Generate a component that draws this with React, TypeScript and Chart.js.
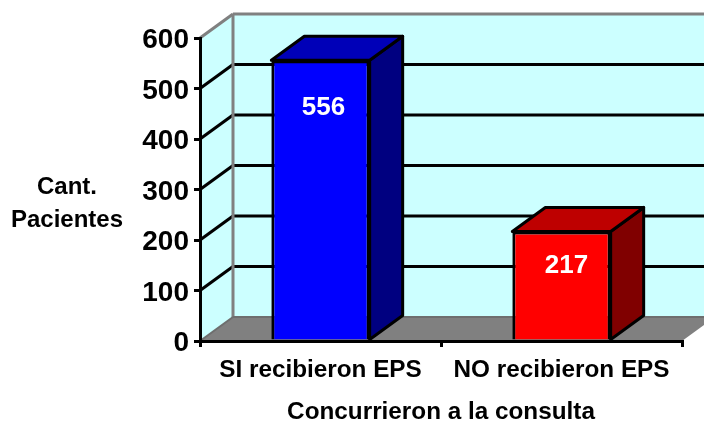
import React, { useEffect, useRef } from "react";
import { Chart, registerables } from "chart.js";

Chart.register(...registerables);

const categories = ["SI recibieron EPS", "NO recibieron EPS"];
const patients = [556, 217];
const frontColors = ["#0000FF", "#FF0000"];
const topColors = ["#0000B8", "#BE0000"];
const sideColors = ["#000080", "#800000"];
const yTicks = [0, 100, 200, 300, 400, 500, 600];
const yTitle = ["Cant.", "Pacientes"];
const xTitle = "Concurrieron a la consulta";

const FONT = "'Liberation Sans', Arial, sans-serif";
const DX = 33;
const DY = 24;
const labelDrop = [46, 32];
const labelShift = [3, 5];

const poly = (ctx: CanvasRenderingContext2D, pts: number[][], fill: string | null, stroke: string | null, lw = 3) => {
  ctx.beginPath();
  pts.forEach((p, i) => (i ? ctx.lineTo(p[0], p[1]) : ctx.moveTo(p[0], p[1])));
  ctx.closePath();
  if (fill) {
    ctx.fillStyle = fill;
    ctx.fill();
  }
  if (stroke) {
    ctx.strokeStyle = stroke;
    ctx.lineWidth = lw;
    ctx.lineJoin = "round";
    ctx.stroke();
  }
};

const line = (ctx: CanvasRenderingContext2D, x1: number, y1: number, x2: number, y2: number, color: string, lw = 3) => {
  ctx.beginPath();
  ctx.moveTo(x1, y1);
  ctx.lineTo(x2, y2);
  ctx.strokeStyle = color;
  ctx.lineWidth = lw;
  ctx.stroke();
};

const box3d = {
  id: "box3d",
  beforeDraw(chart: any) {
    const { ctx, chartArea: a, scales } = chart;
    const { left: l, right: r, top: t, bottom: b } = a;
    ctx.save();
    ctx.fillStyle = "#FFFFFF";
    ctx.fillRect(0, 0, chart.width, chart.height);
    // left and back walls
    poly(ctx, [[l, b], [l + DX, b - DY], [l + DX, t - DY], [l, t]], "#CCFFFF", null);
    poly(ctx, [[l + DX, b - DY], [r + DX, b - DY], [r + DX, t - DY], [l + DX, t - DY]], "#CCFFFF", null);
    // gridlines on both walls
    yTicks.slice(1, -1).forEach((v) => {
      const y = scales.y.getPixelForValue(v);
      line(ctx, l, y, l + DX, y - DY, "#000000");
      line(ctx, l + DX, y - DY, r + DX, y - DY, "#000000");
    });
    // wall edges
    line(ctx, l + DX, b - DY, l + DX, t - DY, "#808080");
    line(ctx, l, t, l + DX, t - DY, "#808080");
    line(ctx, l + DX, t - DY, r + DX, t - DY, "#808080");
    // floor
    poly(ctx, [[l, b], [l + DX, b - DY], [r + DX, b - DY], [r, b]], "#808080", null);
    line(ctx, l + DX, b - DY, r + DX, b - DY, "#6E6E6E", 2);
    line(ctx, l, b, l + DX, b - DY, "#6E6E6E", 2);
    ctx.restore();
  },
  beforeDatasetsDraw(chart: any) {
    const { ctx } = chart;
    ctx.save();
    chart.getDatasetMeta(0).data.forEach((bar: any, i: number) => {
      const x1 = bar.x - bar.width / 2;
      const x2 = bar.x + bar.width / 2;
      const top = bar.y;
      const bottom = bar.base;
      poly(ctx, [[x2, top], [x2 + DX, top - DY], [x2 + DX, bottom - DY], [x2, bottom]], sideColors[i], "#000000");
      poly(ctx, [[x1, top], [x1 + DX, top - DY], [x2 + DX, top - DY], [x2, top]], topColors[i], "#000000");
    });
    ctx.restore();
  },
  afterDatasetsDraw(chart: any) {
    const { ctx } = chart;
    ctx.save();
    ctx.textAlign = "center";
    ctx.textBaseline = "middle";
    ctx.fillStyle = "#FFFFFF";
    ctx.font = `bold 26px ${FONT}`;
    chart.getDatasetMeta(0).data.forEach((bar: any, i: number) => {
      ctx.fillText(String(patients[i]), bar.x + labelShift[i], bar.y + labelDrop[i] + 2);
    });
    ctx.fillStyle = "#000000";
    ctx.font = `bold 24px ${FONT}`;
    yTitle.forEach((s, i) => ctx.fillText(s, 67, 187 + i * 33));
    ctx.restore();
  },
};

export default function App() {
  const ref = useRef<HTMLCanvasElement>(null);
  useEffect(() => {
    const chart = new Chart(ref.current!, {
      type: "bar",
      data: {
        labels: categories,
        datasets: [
          {
            data: patients,
            backgroundColor: frontColors,
            borderColor: "#000000",
            borderWidth: 3,
            barPercentage: 0.408,
            categoryPercentage: 1,
          },
        ],
      },
      plugins: [box3d],
      options: {
        responsive: false,
        animation: false,
        layout: { padding: { top: 38, right: 22, left: 0, bottom: 0 } },
        plugins: { legend: { display: false }, tooltip: { enabled: false } },
        scales: {
          x: {
            type: "category",
            afterFit: (s: any) => {
              s.height = 82;
            },
            grid: { drawOnChartArea: false, drawTicks: true, tickLength: 6, color: "#000000", lineWidth: 3 },
            border: { color: "#000000", width: 3 },
            ticks: { color: "#000000", font: { family: FONT, weight: "bold", size: 24.3 }, padding: 9, maxRotation: 0 },
            title: {
              display: true,
              text: xTitle,
              color: "#000000",
              font: { family: FONT, weight: "bold", size: 24.3, lineHeight: 0.85 },
              padding: { top: 6, bottom: 0 },
            },
          },
          y: {
            min: 0,
            max: 600,
            afterFit: (s: any) => {
              s.width = 200;
            },
            grid: { drawOnChartArea: false, drawTicks: true, tickLength: 6, color: "#000000", lineWidth: 3 },
            border: { color: "#000000", width: 3 },
            ticks: {
              color: "#000000",
              stepSize: 100,
              font: { family: FONT, weight: "bold", size: 28, lineHeight: 5 / 28 },
              padding: 5,
              callback: (v: any) => ["", String(v)],
            },
          },
        },
      } as any,
    });
    return () => chart.destroy();
  }, []);
  return (
    <div style={{ position: "fixed", left: 0, top: 0, width: 704, height: 423 }}>
      <canvas ref={ref} width={704} height={423} style={{ display: "block" }} />
    </div>
  );
}
